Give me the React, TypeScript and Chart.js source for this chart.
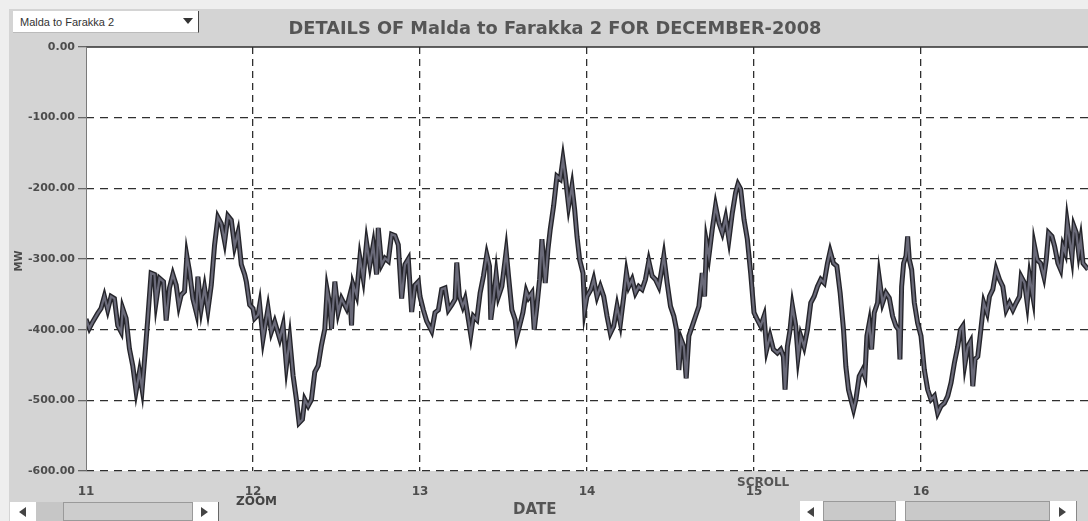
import React, { useEffect, useRef } from "react";
import { Chart, registerables } from "chart.js";

Chart.register(...registerables);

const chartTitle = "DETAILS OF Malda to Farakka 2 FOR DECEMBER-2008";
const feederName = "Malda to Farakka 2";
const yAxisTitle = "MW";
const xAxisTitle = "DATE";

const dayTicks = [11, 12, 13, 14, 15, 16];
const mwTicks = [0, -100, -200, -300, -400, -500, -600];

// day of month (fractional) for each reading
const days = [
  11.0, 11.02, 11.04, 11.07, 11.09, 11.11, 11.13, 11.15, 11.17, 11.19, 11.21, 11.22, 11.24, 11.26, 11.28, 11.3,
  11.32, 11.336, 11.356, 11.37, 11.39, 11.41, 11.42, 11.44, 11.464, 11.48, 11.5, 11.52, 11.54, 11.556, 11.57, 11.59,
  11.604, 11.62, 11.64, 11.66, 11.67, 11.69, 11.71, 11.73, 11.75, 11.77, 11.79, 11.81, 11.83, 11.85, 11.87, 11.89,
  11.91, 11.93, 11.95, 11.96, 11.98, 12.0, 12.01, 12.03, 12.04, 12.06, 12.09, 12.11, 12.13, 12.16, 12.18, 12.2,
  12.22, 12.24, 12.26, 12.276, 12.296, 12.31, 12.33, 12.35, 12.37, 12.39, 12.41, 12.43, 12.444, 12.46, 12.47, 12.49,
  12.51, 12.53, 12.56, 12.58, 12.59, 12.6, 12.62, 12.64, 12.66, 12.68, 12.7, 12.72, 12.74, 12.75, 12.77, 12.79,
  12.81, 12.83, 12.85, 12.87, 12.89, 12.91, 12.93, 12.95, 12.97, 12.99,
  13.0, 13.02, 13.04, 13.07, 13.09, 13.11, 13.13, 13.15, 13.17, 13.19, 13.21, 13.22, 13.236, 13.256, 13.27, 13.29,
  13.304, 13.32, 13.34, 13.36, 13.38, 13.4, 13.416, 13.424, 13.44, 13.456, 13.47, 13.49, 13.516, 13.53, 13.55, 13.57,
  13.58, 13.596, 13.616, 13.636, 13.65, 13.67, 13.684, 13.7, 13.716, 13.73, 13.75, 13.766, 13.78, 13.8, 13.82, 13.84,
  13.856, 13.87, 13.89, 13.91, 13.926, 13.94, 13.956, 13.976, 13.986, 14.0, 14.024, 14.04, 14.06, 14.08, 14.1, 14.12,
  14.14, 14.16, 14.18, 14.2, 14.22, 14.236, 14.25, 14.27, 14.29, 14.31, 14.33, 14.35, 14.37, 14.39, 14.41, 14.43,
  14.444, 14.46, 14.48, 14.5, 14.52, 14.536, 14.55, 14.564, 14.58, 14.594, 14.61, 14.63, 14.65, 14.67, 14.69, 14.704,
  14.716, 14.73, 14.75, 14.77, 14.79, 14.81, 14.83, 14.85, 14.87, 14.89, 14.904, 14.92, 14.94, 14.96, 14.98,
  15.0, 15.02, 15.04, 15.06, 15.076, 15.096, 15.116, 15.14, 15.16, 15.176, 15.186, 15.2, 15.216, 15.23, 15.25, 15.264,
  15.28, 15.3, 15.32, 15.34, 15.36, 15.38, 15.4, 15.42, 15.44, 15.456, 15.476, 15.496, 15.516, 15.536, 15.55, 15.566,
  15.586, 15.596, 15.61, 15.63, 15.65, 15.664, 15.676, 15.69, 15.704, 15.72, 15.74, 15.75, 15.77, 15.79, 15.81, 15.83,
  15.85, 15.866, 15.874, 15.884, 15.896, 15.91, 15.92, 15.93, 15.944, 15.96, 15.98, 16.0, 16.02, 16.04, 16.06, 16.08,
  16.1, 16.12, 16.14, 16.16, 16.18, 16.2, 16.22, 16.236, 16.25, 16.264, 16.28, 16.296, 16.31, 16.324, 16.34, 16.356,
  16.376, 16.396, 16.41, 16.43, 16.45, 16.47, 16.49, 16.51, 16.53, 16.55, 16.57, 16.59, 16.6, 16.62, 16.636, 16.65,
  16.67, 16.68, 16.696, 16.716, 16.736, 16.75, 16.764, 16.784, 16.8, 16.82, 16.836, 16.85, 16.864, 16.876, 16.89, 16.904,
  16.916, 16.93, 16.944, 16.956, 16.97, 16.984, 17.0,
];

// power flow in MW for each reading
const mw = [
  -385, -398, -389, -377, -370, -353, -372, -353, -356, -394, -403, -370, -384, -427, -451, -487,
  -460, -484, -427, -384, -320, -322, -360, -327, -332, -387, -341, -322, -337, -365, -351, -346,
  -296, -318, -356, -375, -325, -370, -341, -372, -337, -280, -241, -250, -275, -239, -245, -282,
  -263, -308, -322, -332, -365, -370, -384, -379, -365, -413, -370, -403, -389, -413, -394, -451,
  -413, -465, -499, -532, -527, -499, -508, -499, -460, -451, -422, -399, -344, -365, -399, -332,
  -375, -356, -370, -351, -394, -337, -351, -299, -327, -277, -308, -280, -322, -256, -308, -299,
  -303, -265, -267, -280, -356, -308, -300, -375, -337, -332,
  -353, -372, -388, -402, -376, -372, -343, -341, -372, -365, -357, -305, -353, -367, -357, -386,
  -407, -381, -386, -348, -324, -294, -310, -386, -357, -322, -353, -339, -289, -324, -372, -386,
  -409, -395, -376, -346, -355, -348, -400, -367, -329, -272, -334, -287, -258, -225, -183, -187,
  -159, -183, -225, -197, -230, -268, -301, -320, -372, -353, -343, -329, -353, -339, -353, -381,
  -405, -395, -367, -391, -353, -320, -339, -329, -348, -339, -343, -329, -303, -324, -329, -339,
  -320, -296, -334, -367, -381, -400, -457, -414, -424, -469, -409, -395, -381, -367, -320, -353,
  -277, -296, -258, -225, -249, -263, -242, -272, -235, -206, -194, -201, -244, -272, -320,
  -376, -386, -395, -381, -428, -409, -428, -433, -428, -438, -485, -424, -400, -367, -395, -438,
  -409, -424, -400, -362, -353, -339, -329, -334, -306, -289, -306, -310, -348, -400, -452, -485,
  -504, -513, -499, -466, -457, -466, -409, -391, -428, -376, -362, -327, -362, -348, -355, -381,
  -395, -400, -442, -339, -306, -296, -268, -301, -315, -362, -391, -409, -457, -485, -499, -494,
  -518, -508, -504, -494, -475, -447, -424, -400, -395, -447, -424, -417, -480, -442, -438, -405,
  -362, -376, -353, -343, -315, -329, -339, -372, -362, -372, -362, -353, -325, -334, -362, -325,
  -353, -282, -301, -306, -325, -301, -263, -268, -282, -306, -315, -282, -291, -249, -273, -296,
  -254, -263, -291, -273, -306, -310, -315,
];

const WIDE = "'DejaVu Sans', Verdana, sans-serif";
const NARROW = "'Liberation Sans', Arial, sans-serif";

const backgroundPlugin = {
  id: "scanBackground",
  beforeDraw(chart: any) {
    const { ctx, width, height, chartArea } = chart;
    ctx.save();
    ctx.fillStyle = "#d4d4d4";
    ctx.fillRect(0, 0, width, height);
    ctx.fillStyle = "#eeeeee";
    ctx.fillRect(0, 0, width, 9);
    ctx.fillRect(0, 0, 9, height);
    ctx.fillStyle = "#ffffff";
    ctx.fillRect(chartArea.left, chartArea.top, chartArea.right - chartArea.left, chartArea.bottom - chartArea.top);
    ctx.restore();
  },
  afterDraw(chart: any) {
    const { ctx, chartArea } = chart;
    ctx.save();
    ctx.setLineDash([]);
    ctx.strokeStyle = "#2e2e2e";
    ctx.lineWidth = 1.5;
    ctx.beginPath();
    ctx.moveTo(chartArea.left, chartArea.top);
    ctx.lineTo(chartArea.right, chartArea.top);
    ctx.stroke();
    ctx.strokeStyle = "#7a7a7a";
    ctx.lineWidth = 1;
    ctx.beginPath();
    ctx.moveTo(chartArea.left + 0.5, chartArea.top);
    ctx.lineTo(chartArea.left + 0.5, chartArea.bottom);
    ctx.stroke();
    ctx.restore();
  },
};

function Tri({ dir, left, top }: { dir: "left" | "right" | "down"; left: number; top: number }) {
  const s: React.CSSProperties = { position: "absolute", left, top, width: 0, height: 0 };
  if (dir === "left") {
    s.borderTop = "5px solid transparent";
    s.borderBottom = "5px solid transparent";
    s.borderRight = "7px solid #444";
  } else if (dir === "right") {
    s.borderTop = "5px solid transparent";
    s.borderBottom = "5px solid transparent";
    s.borderLeft = "7px solid #444";
  } else {
    s.borderLeft = "5px solid transparent";
    s.borderRight = "5px solid transparent";
    s.borderTop = "6px solid #333";
  }
  return <div style={s} />;
}

function Box({ left, top, width, height, bg, border }: { left: number; top: number; width: number; height: number; bg: string; border?: string }) {
  return (
    <div
      style={{
        position: "absolute",
        left,
        top,
        width,
        height,
        background: bg,
        border: border || "none",
        boxSizing: "border-box",
      }}
    />
  );
}

export default function App() {
  const canvasRef = useRef<HTMLCanvasElement | null>(null);

  useEffect(() => {
    if (!canvasRef.current) return;
    const points = days.map((d, i) => ({ x: d, y: mw[i] }));
    const chart = new Chart(canvasRef.current, {
      type: "line",
      data: {
        datasets: [
          {
            label: "outline",
            data: points,
            borderColor: "#25252b",
            borderWidth: 5,
            pointRadius: 0,
            tension: 0,
            fill: false,
            order: 2,
          },
          {
            label: feederName,
            data: points,
            borderColor: "#6a6a79",
            borderWidth: 2.2,
            pointRadius: 0,
            tension: 0,
            fill: false,
            order: 1,
          },
        ],
      },
      options: {
        responsive: false,
        animation: false,
        events: [],
        layout: { padding: { left: 22, top: 0, right: 0, bottom: 0 } },
        plugins: {
          legend: { display: false },
          tooltip: { enabled: false },
          title: {
            display: true,
            text: chartTitle,
            color: "#555555",
            font: { family: WIDE, size: 17.8, weight: "bold", lineHeight: 1.2 },
            padding: { top: 18.5, bottom: 7.1 },
          },
        },
        scales: {
          x: {
            type: "linear",
            min: 11,
            max: 17,
            afterBuildTicks: (scale: any) => {
              scale.ticks = dayTicks.map((v) => ({ value: v }));
            },
            afterFit: (scale: any) => {
              scale.height = 50;
            },
            ticks: {
              color: "#4d4d4d",
              font: { family: WIDE, size: 12, weight: "bold" },
              padding: 14,
              maxRotation: 0,
              autoSkip: false,
              callback: (v: any) => String(v),
            },
            grid: {
              drawTicks: false,
              color: (c: any) => (c.tick && c.tick.value === 11 ? "rgba(0,0,0,0)" : "#2f2f2f"),
              lineWidth: 1.3,
            },
            border: { display: false, dash: [7, 5] },
          },
          y: {
            type: "linear",
            min: -600,
            max: 0,
            afterBuildTicks: (scale: any) => {
              scale.ticks = mwTicks.map((v) => ({ value: v }));
            },
            afterFit: (scale: any) => {
              scale.width = 64;
            },
            ticks: {
              color: "#4d4d4d",
              font: { family: WIDE, size: 11, weight: "bold" },
              padding: 3,
              callback: (v: any) => Number(v).toFixed(2),
            },
            grid: {
              drawTicks: true,
              tickLength: 8,
              tickColor: "#666666",
              tickBorderDash: [],
              color: (c: any) => (c.tick && c.tick.value === 0 ? "rgba(0,0,0,0)" : "#2f2f2f"),
              lineWidth: 1.3,
            },
            border: { display: false, dash: [8, 6] },
          },
        },
      },
      plugins: [backgroundPlugin],
    } as any);
    return () => chart.destroy();
  }, []);

  const label: React.CSSProperties = {
    position: "absolute",
    fontFamily: WIDE,
    fontWeight: "bold",
    color: "#4a4a4a",
    whiteSpace: "nowrap",
    lineHeight: 1,
  };

  return (
    <div style={{ position: "absolute", left: 0, top: 0, width: 1088, height: 521, overflow: "hidden" }}>
      <canvas ref={canvasRef} width={1088} height={521} style={{ display: "block" }} />

      {/* feeder dropdown */}
      <div
        style={{
          position: "absolute",
          left: 13,
          top: 11,
          width: 186,
          height: 22,
          background: "#ffffff",
          borderRight: "1px solid #444",
          borderBottom: "1px solid #bbb",
          boxSizing: "border-box",
        }}
      />
      <div style={{ ...label, fontFamily: NARROW, fontWeight: "normal", color: "#333", fontSize: 11, left: 20, top: 17 }}>{feederName}</div>
      <Tri dir="down" left={183} top={18} />

      {/* axis titles */}
      <div
        style={{
          ...label,
          fontSize: 10,
          left: 8,
          top: 256,
          transform: "rotate(-90deg)",
          transformOrigin: "center",
          width: 22,
          textAlign: "center",
        }}
      >
        {yAxisTitle}
      </div>
      <div style={{ ...label, fontSize: 15, left: 513, top: 502, color: "#555" }}>{xAxisTitle}</div>
      <div style={{ ...label, fontSize: 12, left: 236, top: 495, color: "#444" }}>ZOOM</div>
      <div style={{ ...label, fontSize: 12, left: 737, top: 476, color: "#555" }}>SCROLL</div>

      {/* left scroll bar */}
      <Box left={10} top={502} width={26} height={19} bg="#ffffff" />
      <Tri dir="left" left={19} top={507} />
      <Box left={36} top={502} width={27} height={19} bg="#c6c6c6" />
      <Box left={63} top={502} width={130} height={19} bg="#cdcdcd" border="1px solid #9a9a9a" />
      <Box left={193} top={502} width={25} height={19} bg="#ffffff" />
      <Tri dir="right" left={201} top={507} />
      <Box left={218} top={502} width={1} height={19} bg="#666" />

      {/* right scroll bar */}
      <Box left={800} top={501} width={23} height={20} bg="#ffffff" />
      <Tri dir="left" left={807} top={507} />
      <Box left={823} top={501} width={73} height={20} bg="#c9c9c9" border="1px solid #999" />
      <Box left={896} top={501} width={9} height={20} bg="#ffffff" />
      <Box left={905} top={501} width={145} height={20} bg="#c9c9c9" border="1px solid #999" />
      <Box left={1050} top={501} width={26} height={20} bg="#ffffff" />
      <Tri dir="right" left={1059} top={507} />
      <Box left={1076} top={501} width={1} height={20} bg="#888" />
    </div>
  );
}
